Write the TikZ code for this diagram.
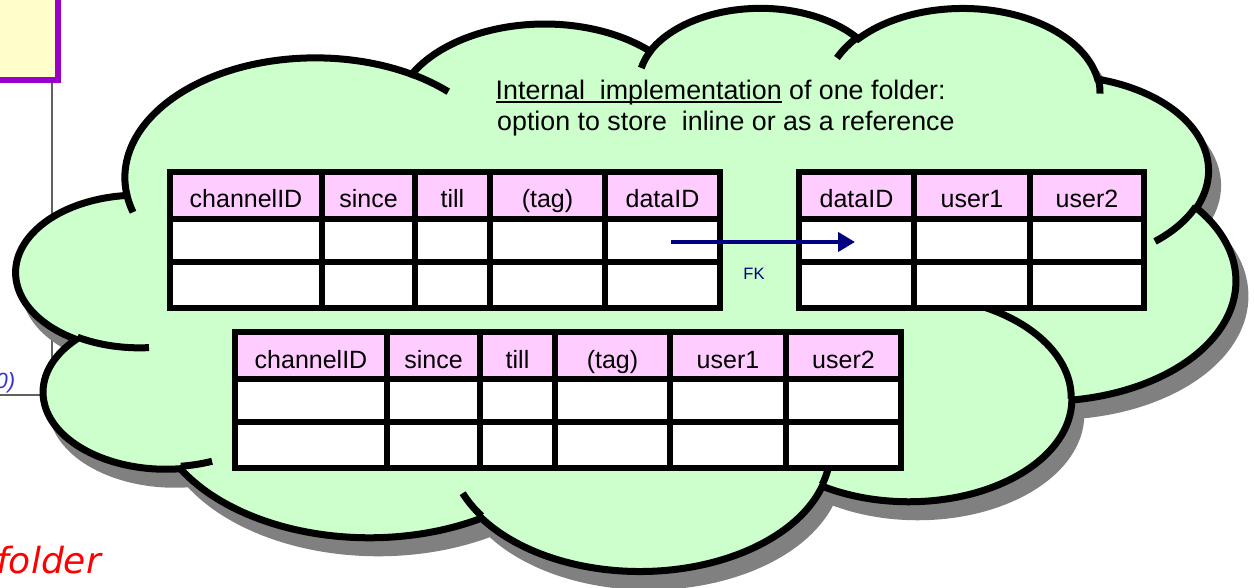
\documentclass[tikz,border=0pt]{standalone}
\usepackage{fontspec}
\setmainfont{Liberation Sans}
\newfontfamily\handfont{DejaVu Sans}
\usetikzlibrary{arrows.meta}

\definecolor{cloudgreen}{HTML}{CCFFCC}
\definecolor{headpink}{HTML}{FFCCFF}
\definecolor{fknavy}{HTML}{000080}
\definecolor{noteyellow}{HTML}{FFFFCC}
\definecolor{notepurple}{HTML}{9900CC}
\definecolor{noteblue}{HTML}{3333CC}
\definecolor{shadowgrey}{HTML}{808080}
\definecolor{rulegrey}{HTML}{606060}

% parametric angle of an ellipse point given by its visual angle
\pgfmathdeclarefunction{visang}{3}{%
  \begingroup
  \pgfmathparse{atan2(#1*sin(#3),#2*cos(#3))}%
  \pgfmathsmuggle\pgfmathresult
  \endgroup}

% underline placed just under the baseline
\newcommand\myul[1]{\setbox0=\hbox{#1}\rlap{\rule[-2.6pt]{\wd0}{1.6pt}}\box0\relax}

\tikzset{
  ooarc/.style n args={4}{
    start angle={visang(#1,#2,#3)},
    delta angle={mod(visang(#1,#2,#3+#4)-visang(#1,#2,#3)+720,360)},
    x radius=#1, y radius=#2},
  headcell/.style={draw=black, line width=5.5pt, fill=headpink, inner sep=0pt,
    outer sep=0pt, anchor=north west, font=\fontsize{25}{30}\selectfont,
    text height=25pt, text depth=0pt},
  bodycell/.style={headcell, fill=white},
  cloudline/.style={line width=7pt, line join=miter},
  fkarrow/.style={draw=fknavy, line width=4.5pt, -{Triangle[length=17pt,width=19pt]}},
  titletext/.style={inner sep=0pt, anchor=base west, font=\fontsize{26.8}{31}\selectfont},
}

% cloud outline in a 43200 x 43200 frame
\newcommand\cloudoutline{(3900,14370)
  arc[ooarc={6753}{9190}{-190.487483}{123.780533}]
  arc[ooarc={5333}{7267}{-144.102383}{89.945233}]
  arc[ooarc={4365}{5945}{-145.807917}{99.723017}]
  arc[ooarc={4857}{6595}{-130.986067}{117.241733}]
  arc[ooarc={5333}{7273}{-78.708883}{109.026917}]
  arc[ooarc={6775}{9220}{-46.26725}{130.269}]
  arc[ooarc={5785}{7867}{0.625017}{114.033333}]
  arc[ooarc={6752}{9215}{22.4516}{115.17255}]
  arc[ooarc={7720}{10543}{66.24263}{75.71102}]
  arc[ooarc={4360}{5918}{-274.942083}{146.73557}]
  arc[ooarc={4345}{5945}{-246.8285}{152.51885}]
  -- cycle}

% short inner arcs where the lobes overlap
\newcommand\cloudcreases{
  (4693,26177) arc[ooarc={4345}{5945}{86.742}{26.4295}]
  (6928,34899) arc[ooarc={4360}{5918}{73.610467}{11.447467}]
  (16478,39090) arc[ooarc={6752}{9215}{137.62415}{14.0811}]
  (28827,34751) arc[ooarc={6752}{9215}{6.453267}{15.99835}]
  (34129,22954) arc[ooarc={5785}{7867}{-70.29235}{70.917367}]
  (41798,15354) arc[ooarc={5333}{7273}{30.318033}{27.7515}]
  (38324,5426) arc[ooarc={4857}{6595}{-13.744333}{14.85375}]
  (29078,3952) arc[ooarc={4857}{6595}{-149.18145}{18.19975}]
  (22141,4720) arc[ooarc={4365}{5945}{-163.494267}{17.698083}]
  (14000,5192) arc[ooarc={6753}{9190}{-66.70695}{12.31935}]
  (4127,15789) arc[ooarc={6753}{9190}{157.65435}{11.858167}]}

\begin{document}
\begin{tikzpicture}[x=1pt,y=-1pt]
\useasboundingbox (0,0) rectangle (1254,588);
\fill[white] (0,0) rectangle (1254,588);

% note box in the upper left corner and its grey rule
\node[draw=notepurple, line width=6pt, fill=noteyellow, minimum width=120pt,
  minimum height=120pt, inner sep=0pt, outer sep=0pt, anchor=south east] (note) at (58,80) {};
\coordinate (ruletop) at (52,83);
\coordinate (ruleend) at (-5,395);
\draw[rulegrey, line width=1.8pt] (ruletop) |- (ruleend);
\node[anchor=base east, inner sep=0pt, text=noteblue,
  font=\fontsize{22}{26}\selectfont\itshape] (pageref) at (15.5,388) {0)};
\node[anchor=base east, inner sep=0pt, text=red,
  font=\handfont\itshape\fontsize{36}{40}\selectfont] (foldertxt) at (101,573) {folder};

% cloud: shadow, body, creases
\begin{scope}[shift={(25.6,21.5)}, x=0.028211pt, y=-0.013032pt]
  \path[cloudline, fill=shadowgrey, draw=shadowgrey] \cloudoutline;
\end{scope}
\begin{scope}[shift={(16.6,6.5)}, x=0.028211pt, y=-0.013032pt]
  \path[cloudline, fill=cloudgreen, draw=black] \cloudoutline;
  \draw[cloudline, line cap=butt] \cloudcreases;
\end{scope}

% title
\node[titletext] (title1) at (495.5,100) {\myul{Internal~ implementation} of one folder:};
\node[titletext] (title2) at (497,131) {option to store~ inline or as a reference};

% folder table with a data reference
\foreach \xa/\xb/\lbl [count=\i] in {170/322/channelID,322/415/since,415/490/till,490/605/(tag),605/720/dataID}{
  \node[headcell, minimum width={\xb-\xa}, minimum height=47] (ta-h\i) at (\xa,172) {\lbl};
  \node[bodycell, minimum width={\xb-\xa}, minimum height=43] (ta-a\i) at (\xa,219) {};
  \node[bodycell, minimum width={\xb-\xa}, minimum height=46] (ta-b\i) at (\xa,262) {};
}

% payload table
\foreach \xa/\xb/\lbl [count=\i] in {799/914/dataID,914/1030/user1,1030/1144/user2}{
  \node[headcell, minimum width={\xb-\xa}, minimum height=47] (tb-h\i) at (\xa,172) {\lbl};
  \node[bodycell, minimum width={\xb-\xa}, minimum height=43] (tb-a\i) at (\xa,219) {};
  \node[bodycell, minimum width={\xb-\xa}, minimum height=46] (tb-b\i) at (\xa,262) {};
}

% folder table with inline payload
\foreach \xa/\xb/\lbl [count=\i] in {235/387/channelID,387/480/since,480/555/till,555/670/(tag),670/786/user1,786/901/user2}{
  \node[headcell, minimum width={\xb-\xa}, minimum height=47] (tc-h\i) at (\xa,332) {\lbl};
  \node[bodycell, minimum width={\xb-\xa}, minimum height=43] (tc-a\i) at (\xa,379) {};
  \node[bodycell, minimum width={\xb-\xa}, minimum height=46] (tc-b\i) at (\xa,422) {};
}

% foreign key
\coordinate (fkfrom) at (671,242);
\coordinate (fkto) at (855,242);
\draw[fkarrow] (fkfrom) -- (fkto);
\node[anchor=base, inner sep=0pt, text=fknavy, font=\fontsize{16.5}{19}\selectfont] (fk) at (754,280) {FK};
\end{tikzpicture}
\end{document}
